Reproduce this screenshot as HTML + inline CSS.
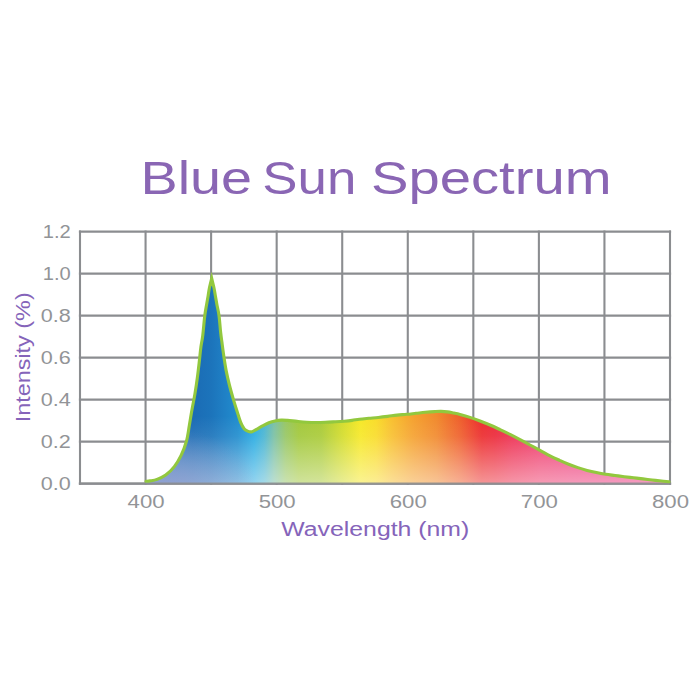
<!DOCTYPE html>
<html><head><meta charset="utf-8"><title>Blue Sun Spectrum</title>
<style>
html,body{margin:0;padding:0;background:#fff;}
body{width:700px;height:700px;overflow:hidden;font-family:"Liberation Sans",sans-serif;}
svg{display:block;}
svg text{font-family:"Liberation Sans",sans-serif;}
.tick text{font-size:19px;fill:#929497;}
.axis{font-size:20px;fill:#8564ba;}
.title text{font-size:46.5px;fill:#8a66b4;}
</style></head>
<body>
<svg width="700" height="700" viewBox="0 0 700 700">
<defs>
<linearGradient id="hue" gradientUnits="userSpaceOnUse" x1="146" y1="0" x2="669" y2="0">
<stop offset="0" stop-color="#2a6cb5"/>
<stop offset="0.09" stop-color="#1b6cb5"/>
<stop offset="0.125" stop-color="#1c74bb"/>
<stop offset="0.150" stop-color="#1f80c5"/>
<stop offset="0.175" stop-color="#218dce"/>
<stop offset="0.192" stop-color="#259dd9"/>
<stop offset="0.207" stop-color="#2aace2"/>
<stop offset="0.226" stop-color="#4ab5d2"/>
<stop offset="0.245" stop-color="#7bc0a3"/>
<stop offset="0.267" stop-color="#97c664"/>
<stop offset="0.292" stop-color="#a2c83c"/>
<stop offset="0.335" stop-color="#aacb38"/>
<stop offset="0.375" stop-color="#d3dc2c"/>
<stop offset="0.41" stop-color="#f6e827"/>
<stop offset="0.44" stop-color="#f9dc2a"/>
<stop offset="0.47" stop-color="#f8c030"/>
<stop offset="0.51" stop-color="#f5a230"/>
<stop offset="0.555" stop-color="#f18a2e"/>
<stop offset="0.60" stop-color="#ef602c"/>
<stop offset="0.642" stop-color="#ec2d2e"/>
<stop offset="0.667" stop-color="#ec2a3a"/>
<stop offset="0.70" stop-color="#ed2f52"/>
<stop offset="0.753" stop-color="#ee386a"/>
<stop offset="0.81" stop-color="#ed3876"/>
<stop offset="0.887" stop-color="#ec387e"/>
<stop offset="1" stop-color="#ec3a84"/>
</linearGradient>
<linearGradient id="fade" gradientUnits="userSpaceOnUse" x1="0" y1="416" x2="0" y2="484">
<stop offset="0" stop-color="#fff" stop-opacity="0"/>
<stop offset="0.3" stop-color="#fff" stop-opacity="0.08"/>
<stop offset="1" stop-color="#fff" stop-opacity="0.5"/>
</linearGradient>
<radialGradient id="violet" gradientUnits="userSpaceOnUse" cx="165" cy="494" r="95" gradientTransform="translate(165 494) scale(1 0.7) translate(-165 -494)">
<stop offset="0" stop-color="#8e92ca" stop-opacity="0.7"/>
<stop offset="0.45" stop-color="#8e94cc" stop-opacity="0.36"/>
<stop offset="1" stop-color="#8f94cc" stop-opacity="0"/>
</radialGradient>
<clipPath id="clip"><path d="M146.00 481.30 C146.67 481.23 148.17 481.22 150.00 480.90 C151.83 480.58 154.38 480.37 157.00 479.40 C159.62 478.43 162.82 477.23 165.70 475.10 C168.58 472.97 171.73 469.88 174.30 466.60 C176.87 463.32 179.07 459.67 181.10 455.40 C183.13 451.13 185.12 446.07 186.50 441.00 C187.88 435.93 188.48 430.25 189.40 425.00 C190.32 419.75 191.08 414.67 192.00 409.50 C192.92 404.33 194.02 399.25 194.90 394.00 C195.78 388.75 196.57 383.42 197.30 378.00 C198.03 372.58 198.70 366.67 199.30 361.50 C199.90 356.33 200.33 351.25 200.90 347.00 C201.47 342.75 202.05 341.25 202.70 336.00 C203.35 330.75 204.13 320.83 204.80 315.50 C205.47 310.17 206.15 307.25 206.70 304.00 C207.25 300.75 207.67 298.58 208.10 296.00 C208.53 293.42 208.70 291.43 209.30 288.50 C209.90 285.57 211.30 280.08 211.70 278.40 C212.10 280.08 213.48 285.57 214.10 288.50 C214.72 291.43 214.95 293.42 215.40 296.00 C215.85 298.58 216.20 300.75 216.80 304.00 C217.40 307.25 218.37 310.83 219.00 315.50 C219.63 320.17 220.10 327.45 220.60 332.00 C221.10 336.55 221.45 338.68 222.00 342.80 C222.55 346.92 223.20 352.02 223.90 356.70 C224.60 361.38 225.28 366.18 226.20 370.90 C227.12 375.62 228.22 380.30 229.40 385.00 C230.58 389.70 232.00 394.65 233.30 399.10 C234.60 403.55 235.95 407.77 237.20 411.70 C238.45 415.63 239.62 419.82 240.80 422.70 C241.98 425.58 243.07 427.55 244.30 429.00 C245.53 430.45 246.90 430.95 248.20 431.40 C249.50 431.85 250.70 432.03 252.10 431.70 C253.50 431.37 254.85 430.37 256.60 429.40 C258.35 428.43 260.55 427.00 262.60 425.90 C264.65 424.80 266.82 423.63 268.90 422.80 C270.98 421.97 273.02 421.35 275.10 420.90 C277.18 420.45 279.30 420.18 281.40 420.10 C283.50 420.02 285.08 420.18 287.70 420.40 C290.32 420.62 293.95 421.10 297.10 421.40 C300.25 421.70 303.45 422.02 306.60 422.20 C309.75 422.38 312.87 422.48 316.00 422.50 C319.13 422.52 322.25 422.42 325.40 422.30 C328.55 422.18 331.75 421.98 334.90 421.80 C338.05 421.62 341.43 421.43 344.30 421.20 C347.17 420.97 349.58 420.73 352.10 420.40 C354.62 420.07 356.60 419.55 359.40 419.20 C362.20 418.85 365.75 418.58 368.90 418.30 C372.05 418.02 375.17 417.82 378.30 417.50 C381.43 417.18 384.57 416.80 387.70 416.40 C390.83 416.00 393.95 415.45 397.10 415.10 C400.25 414.75 403.45 414.60 406.60 414.30 C409.75 414.00 412.87 413.63 416.00 413.30 C419.13 412.97 422.25 412.58 425.40 412.30 C428.55 412.02 432.28 411.75 434.90 411.60 C437.52 411.45 439.02 411.35 441.10 411.40 C443.18 411.45 445.30 411.62 447.40 411.90 C449.50 412.18 451.60 412.67 453.70 413.10 C455.80 413.53 457.28 413.78 460.00 414.50 C462.72 415.22 466.67 416.32 470.00 417.40 C473.33 418.48 476.67 419.73 480.00 421.00 C483.33 422.27 486.67 423.57 490.00 425.00 C493.33 426.43 496.67 428.03 500.00 429.60 C503.33 431.17 506.67 432.73 510.00 434.40 C513.33 436.07 516.67 437.83 520.00 439.60 C523.33 441.37 526.67 443.22 530.00 445.00 C533.33 446.78 536.67 448.50 540.00 450.30 C543.33 452.10 546.75 454.13 550.00 455.80 C553.25 457.47 556.40 458.88 559.50 460.30 C562.60 461.72 565.53 463.08 568.60 464.30 C571.67 465.52 574.82 466.58 577.90 467.60 C580.98 468.62 584.02 469.57 587.10 470.40 C590.18 471.23 593.30 471.95 596.40 472.60 C599.50 473.25 602.60 473.82 605.70 474.30 C608.80 474.78 611.90 475.10 615.00 475.50 C618.10 475.90 621.20 476.32 624.30 476.70 C627.40 477.08 630.50 477.43 633.60 477.80 C636.70 478.17 639.82 478.53 642.90 478.90 C645.98 479.27 649.02 479.65 652.10 480.00 C655.18 480.35 658.58 480.70 661.40 481.00 C664.22 481.30 667.73 481.67 669.00 481.80 L669 483.6 L146 483.6 Z"/></clipPath>
</defs>
<rect width="700" height="700" fill="#fff"/>
<g stroke="#8b8d90" stroke-width="2.1" fill="none"><line x1="80.00" y1="230.50" x2="80.00" y2="484.70"/><line x1="145.56" y1="230.50" x2="145.56" y2="484.70"/><line x1="211.11" y1="230.50" x2="211.11" y2="484.70"/><line x1="276.67" y1="230.50" x2="276.67" y2="484.70"/><line x1="342.22" y1="230.50" x2="342.22" y2="484.70"/><line x1="407.78" y1="230.50" x2="407.78" y2="484.70"/><line x1="473.33" y1="230.50" x2="473.33" y2="484.70"/><line x1="538.89" y1="230.50" x2="538.89" y2="484.70"/><line x1="604.44" y1="230.50" x2="604.44" y2="484.70"/><line x1="670.00" y1="230.50" x2="670.00" y2="484.70"/><line x1="78.90" y1="231.60" x2="671.10" y2="231.60"/><line x1="78.90" y1="273.60" x2="671.10" y2="273.60"/><line x1="78.90" y1="315.60" x2="671.10" y2="315.60"/><line x1="78.90" y1="357.60" x2="671.10" y2="357.60"/><line x1="78.90" y1="399.60" x2="671.10" y2="399.60"/><line x1="78.90" y1="441.60" x2="671.10" y2="441.60"/><line x1="78.90" y1="483.60" x2="671.10" y2="483.60"/></g>
<g clip-path="url(#clip)">
<rect x="140" y="270" width="535" height="215" fill="url(#hue)"/>
<rect x="140" y="270" width="535" height="215" fill="url(#fade)"/>
<rect x="140" y="270" width="535" height="215" fill="url(#violet)"/>
</g>
<line x1="78.90" y1="483.6" x2="671.10" y2="483.6" stroke="#8b8d90" stroke-width="2.1" opacity="0.85"/>
<path d="M146.00 481.30 C146.67 481.23 148.17 481.22 150.00 480.90 C151.83 480.58 154.38 480.37 157.00 479.40 C159.62 478.43 162.82 477.23 165.70 475.10 C168.58 472.97 171.73 469.88 174.30 466.60 C176.87 463.32 179.07 459.67 181.10 455.40 C183.13 451.13 185.12 446.07 186.50 441.00 C187.88 435.93 188.48 430.25 189.40 425.00 C190.32 419.75 191.08 414.67 192.00 409.50 C192.92 404.33 194.02 399.25 194.90 394.00 C195.78 388.75 196.57 383.42 197.30 378.00 C198.03 372.58 198.70 366.67 199.30 361.50 C199.90 356.33 200.33 351.25 200.90 347.00 C201.47 342.75 202.05 341.25 202.70 336.00 C203.35 330.75 204.13 320.83 204.80 315.50 C205.47 310.17 206.15 307.25 206.70 304.00 C207.25 300.75 207.67 298.58 208.10 296.00 C208.53 293.42 208.70 291.43 209.30 288.50 C209.90 285.57 211.30 280.08 211.70 278.40 C212.10 280.08 213.48 285.57 214.10 288.50 C214.72 291.43 214.95 293.42 215.40 296.00 C215.85 298.58 216.20 300.75 216.80 304.00 C217.40 307.25 218.37 310.83 219.00 315.50 C219.63 320.17 220.10 327.45 220.60 332.00 C221.10 336.55 221.45 338.68 222.00 342.80 C222.55 346.92 223.20 352.02 223.90 356.70 C224.60 361.38 225.28 366.18 226.20 370.90 C227.12 375.62 228.22 380.30 229.40 385.00 C230.58 389.70 232.00 394.65 233.30 399.10 C234.60 403.55 235.95 407.77 237.20 411.70 C238.45 415.63 239.62 419.82 240.80 422.70 C241.98 425.58 243.07 427.55 244.30 429.00 C245.53 430.45 246.90 430.95 248.20 431.40 C249.50 431.85 250.70 432.03 252.10 431.70 C253.50 431.37 254.85 430.37 256.60 429.40 C258.35 428.43 260.55 427.00 262.60 425.90 C264.65 424.80 266.82 423.63 268.90 422.80 C270.98 421.97 273.02 421.35 275.10 420.90 C277.18 420.45 279.30 420.18 281.40 420.10 C283.50 420.02 285.08 420.18 287.70 420.40 C290.32 420.62 293.95 421.10 297.10 421.40 C300.25 421.70 303.45 422.02 306.60 422.20 C309.75 422.38 312.87 422.48 316.00 422.50 C319.13 422.52 322.25 422.42 325.40 422.30 C328.55 422.18 331.75 421.98 334.90 421.80 C338.05 421.62 341.43 421.43 344.30 421.20 C347.17 420.97 349.58 420.73 352.10 420.40 C354.62 420.07 356.60 419.55 359.40 419.20 C362.20 418.85 365.75 418.58 368.90 418.30 C372.05 418.02 375.17 417.82 378.30 417.50 C381.43 417.18 384.57 416.80 387.70 416.40 C390.83 416.00 393.95 415.45 397.10 415.10 C400.25 414.75 403.45 414.60 406.60 414.30 C409.75 414.00 412.87 413.63 416.00 413.30 C419.13 412.97 422.25 412.58 425.40 412.30 C428.55 412.02 432.28 411.75 434.90 411.60 C437.52 411.45 439.02 411.35 441.10 411.40 C443.18 411.45 445.30 411.62 447.40 411.90 C449.50 412.18 451.60 412.67 453.70 413.10 C455.80 413.53 457.28 413.78 460.00 414.50 C462.72 415.22 466.67 416.32 470.00 417.40 C473.33 418.48 476.67 419.73 480.00 421.00 C483.33 422.27 486.67 423.57 490.00 425.00 C493.33 426.43 496.67 428.03 500.00 429.60 C503.33 431.17 506.67 432.73 510.00 434.40 C513.33 436.07 516.67 437.83 520.00 439.60 C523.33 441.37 526.67 443.22 530.00 445.00 C533.33 446.78 536.67 448.50 540.00 450.30 C543.33 452.10 546.75 454.13 550.00 455.80 C553.25 457.47 556.40 458.88 559.50 460.30 C562.60 461.72 565.53 463.08 568.60 464.30 C571.67 465.52 574.82 466.58 577.90 467.60 C580.98 468.62 584.02 469.57 587.10 470.40 C590.18 471.23 593.30 471.95 596.40 472.60 C599.50 473.25 602.60 473.82 605.70 474.30 C608.80 474.78 611.90 475.10 615.00 475.50 C618.10 475.90 621.20 476.32 624.30 476.70 C627.40 477.08 630.50 477.43 633.60 477.80 C636.70 478.17 639.82 478.53 642.90 478.90 C645.98 479.27 649.02 479.65 652.10 480.00 C655.18 480.35 658.58 480.70 661.40 481.00 C664.22 481.30 667.73 481.67 669.00 481.80" fill="none" stroke="#92c83e" stroke-width="3.1" stroke-linejoin="miter" stroke-miterlimit="10" stroke-linecap="round"/>
<g class="tick"><text x="70.7" y="238.40" text-anchor="end" textLength="28" lengthAdjust="spacingAndGlyphs">1.2</text><text x="70.7" y="280.40" text-anchor="end" textLength="28" lengthAdjust="spacingAndGlyphs">1.0</text><text x="70.7" y="322.40" text-anchor="end" textLength="30" lengthAdjust="spacingAndGlyphs">0.8</text><text x="70.7" y="364.40" text-anchor="end" textLength="30" lengthAdjust="spacingAndGlyphs">0.6</text><text x="70.7" y="406.40" text-anchor="end" textLength="30" lengthAdjust="spacingAndGlyphs">0.4</text><text x="70.7" y="448.40" text-anchor="end" textLength="30" lengthAdjust="spacingAndGlyphs">0.2</text><text x="70.7" y="490.40" text-anchor="end" textLength="30" lengthAdjust="spacingAndGlyphs">0.0</text><text x="146.06" y="507.8" text-anchor="middle" textLength="37" lengthAdjust="spacingAndGlyphs">400</text><text x="277.17" y="507.8" text-anchor="middle" textLength="37" lengthAdjust="spacingAndGlyphs">500</text><text x="408.28" y="507.8" text-anchor="middle" textLength="37" lengthAdjust="spacingAndGlyphs">600</text><text x="539.39" y="507.8" text-anchor="middle" textLength="37" lengthAdjust="spacingAndGlyphs">700</text><text x="670.50" y="507.8" text-anchor="middle" textLength="37" lengthAdjust="spacingAndGlyphs">800</text></g>
<g class="title"><text x="140.6" y="193.6" textLength="111.5" lengthAdjust="spacingAndGlyphs">Blue</text><text x="262.3" y="193.6" textLength="94" lengthAdjust="spacingAndGlyphs">Sun</text><text x="371" y="193.6" textLength="240.5" lengthAdjust="spacingAndGlyphs">Spectrum</text></g>
<text class="axis" x="281.3" y="535.7" textLength="188" lengthAdjust="spacingAndGlyphs">Wavelength (nm)</text>
<text class="axis" transform="translate(29.9 422.3) rotate(-90)" textLength="130" lengthAdjust="spacingAndGlyphs">Intensity (%)</text>
</svg>
</body></html>
